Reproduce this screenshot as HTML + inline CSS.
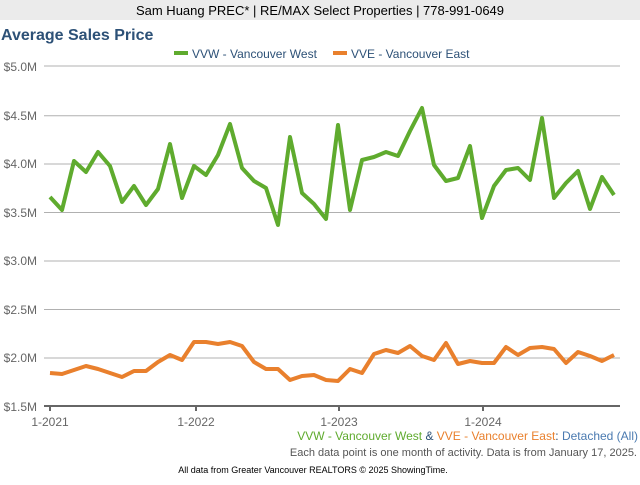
<!DOCTYPE html>
<html><head><meta charset="utf-8"><style>
body{margin:0;width:640px;height:480px;background:#fff;font-family:"Liberation Sans",sans-serif;overflow:hidden}
</style></head><body>
<svg width="640" height="480" xmlns="http://www.w3.org/2000/svg" font-family="Liberation Sans, sans-serif">
<rect x="0" y="0" width="640" height="20" fill="#ebebeb"/>
<text x="320" y="15" font-size="13" text-anchor="middle" fill="#000">Sam Huang PREC* | RE/MAX Select Properties | 778-991-0649</text>
<text x="1" y="40" font-size="16" font-weight="bold" fill="#2d5177">Average Sales Price</text>
<rect x="174" y="51" width="14" height="4" fill="#5fab2e"/>
<text x="192" y="58" font-size="12" fill="#2d5177">VVW - Vancouver West</text>
<rect x="333" y="51" width="14" height="4" fill="#e9802d"/>
<text x="351" y="58" font-size="12" fill="#2d5177">VVE - Vancouver East</text>
<g stroke="#b0b0b0" stroke-width="1">
<line x1="44" y1="66" x2="620" y2="66"/><line x1="44" y1="115.7" x2="620" y2="115.7"/><line x1="44" y1="164" x2="620" y2="164"/><line x1="44" y1="212.5" x2="620" y2="212.5"/><line x1="44" y1="261" x2="620" y2="261"/><line x1="44" y1="309.5" x2="620" y2="309.5"/><line x1="44" y1="358" x2="620" y2="358"/>
</g>
<line x1="44" y1="406" x2="620" y2="406" stroke="#666" stroke-width="2"/>
<g stroke="#666" stroke-width="2"><line x1="50" y1="406" x2="50" y2="411"/><line x1="196" y1="406" x2="196" y2="411"/><line x1="339" y1="406" x2="339" y2="411"/><line x1="483" y1="406" x2="483" y2="411"/></g>
<g font-size="12" fill="#666" text-anchor="end">
<text x="37" y="71">$5.0M</text><text x="37" y="120">$4.5M</text><text x="37" y="168">$4.0M</text><text x="37" y="217">$3.5M</text><text x="37" y="265">$3.0M</text><text x="37" y="314">$2.5M</text><text x="37" y="362">$2.0M</text><text x="37" y="411">$1.5M</text>
</g>
<g font-size="12" fill="#666" text-anchor="middle">
<text x="50" y="426">1-2021</text><text x="196" y="426">1-2022</text><text x="339" y="426">1-2023</text><text x="483" y="426">1-2024</text>
</g>
<polyline fill="none" stroke="#5fab2e" stroke-width="4" stroke-linejoin="round" points="50,197 62,210 74,161 86,172 98,152 110,166 122,202 134,186 146,205 158,189 170,144 182,198 194,166 206,175 218,155 230,124 242,168 254,181 266,188 278,225 290,137 302,193 314,204 326,219 338,125 350,210 362,160 374,157 386,152 398,156 410,131 422,108 434,165 446,181 458,178 470,146 482,218 494,186 506,170 518,168 530,180 542,118 554,198 566,183 578,171 590,209 602,177 614,195"/>
<polyline fill="none" stroke="#e9802d" stroke-width="4" stroke-linejoin="round" points="50,373 62,374 74,370 86,366 98,369 110,373 122,377 134,371 146,371 158,362 170,355 182,360 194,342 206,342 218,344 230,342 242,346 254,362 266,369 278,369 290,380 302,376 314,375 326,380 338,381 350,369 362,373 374,354 386,350 398,353 410,346 422,356 434,360 446,343 458,364 470,361 482,363 494,363 506,347 518,355 530,348 542,347 554,349 566,363 578,352 590,356 602,361 614,355"/>
<text x="638" y="440" font-size="12" text-anchor="end"><tspan fill="#5fab2e">VVW - Vancouver West</tspan><tspan fill="#2d5177"> &amp; </tspan><tspan fill="#e9802d">VVE - Vancouver East</tspan><tspan fill="#2d5177">: </tspan><tspan fill="#4a7ab0">Detached (All)</tspan></text>
<text x="637" y="456" font-size="11" fill="#555" text-anchor="end">Each data point is one month of activity. Data is from January 17, 2025.</text>
<text x="313" y="473" font-size="9" fill="#000" text-anchor="middle">All data from Greater Vancouver REALTORS © 2025 ShowingTime.</text>
</svg>
</body></html>
